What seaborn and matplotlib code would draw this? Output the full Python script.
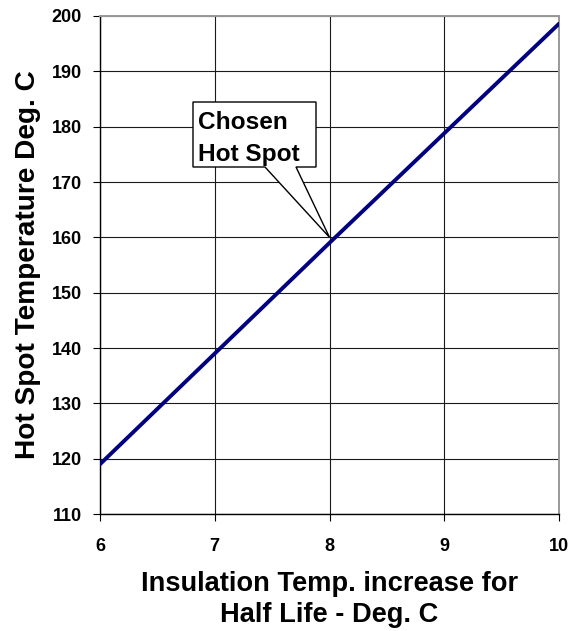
import matplotlib
matplotlib.use("Agg")
import matplotlib.pyplot as plt
from matplotlib.patches import Polygon
import seaborn as sns
import pandas as pd

x_vals = [6, 7, 8, 9, 10]
y_vals = [119.0, 139.0, 159.0, 178.8, 198.6]
x_ticks = [6, 7, 8, 9, 10]
y_ticks = [110, 120, 130, 140, 150, 160, 170, 180, 190, 200]
callout_text = "Chosen\nHot Spot"
callout_point = (8, 160)

sns.set_theme(style="white")
plt.rcParams['font.family'] = ['Liberation Sans', 'DejaVu Sans']
plt.rcParams.update({"text.color": "black", "axes.labelcolor": "black",
                     "xtick.color": "black", "ytick.color": "black"})

df = pd.DataFrame({"x": x_vals, "y": y_vals})

fig = plt.figure(figsize=(5.70, 6.31), dpi=100)
ax = fig.add_axes([100/570, 1-514/631, 459/570, 498/631])

sns.lineplot(data=df, x="x", y="y", ax=ax, color="#000080", linewidth=2.8, zorder=4)

ax.set_xlim(6, 10)
ax.set_ylim(110, 200)
ax.set_xticks(x_ticks)
ax.set_yticks(y_ticks)
ax.grid(True, color="#1a1a1a", linewidth=0.8)
ax.set_axisbelow(True)
for s in ["left", "bottom"]:
    ax.spines[s].set_color("black")
    ax.spines[s].set_linewidth(1.0)
for s in ["top", "right"]:
    ax.spines[s].set_color("#999999")
    ax.spines[s].set_linewidth(1.4)

ax.tick_params(axis="x", which="major", direction="out", length=5, width=0.8,
               labelsize=13, pad=12, bottom=True)
ax.tick_params(axis="y", which="major", direction="out", length=5, width=0.8,
               labelsize=13, pad=8, left=True)
for lab in ax.get_xticklabels() + ax.get_yticklabels():
    lab.set_fontweight("bold")

ax.set_xlabel("Insulation Temp. increase for\nHalf Life - Deg. C", fontsize=19.6,
              fontweight="bold", labelpad=12, linespacing=1.25)
ax.set_ylabel("Hot Spot Temperature Deg. C", fontsize=20.2, fontweight="bold", labelpad=8)

# callout shape (box with wedge pointing at the chosen point), in axes fraction
tip = ax.transAxes.inverted().transform(ax.transData.transform(callout_point))
bx0, bx1, by0, by1 = 0.2026, 0.4706, 0.6968, 0.8273
w0, w1 = 0.3595, 0.4270
verts = [(bx0, by0), (w0, by0), tuple(tip), (w1, by0), (bx1, by0), (bx1, by1), (bx0, by1)]
ax.add_patch(Polygon(verts, closed=True, transform=ax.transAxes, fc="white",
                     ec="black", lw=1.0, zorder=5, joinstyle="miter"))
ax.text(0.2135, 0.7088, callout_text, transform=ax.transAxes, fontsize=17.6,
        fontweight="bold", ha="left", va="baseline", linespacing=1.5, zorder=6)

fig.savefig("out.png", dpi=100)
